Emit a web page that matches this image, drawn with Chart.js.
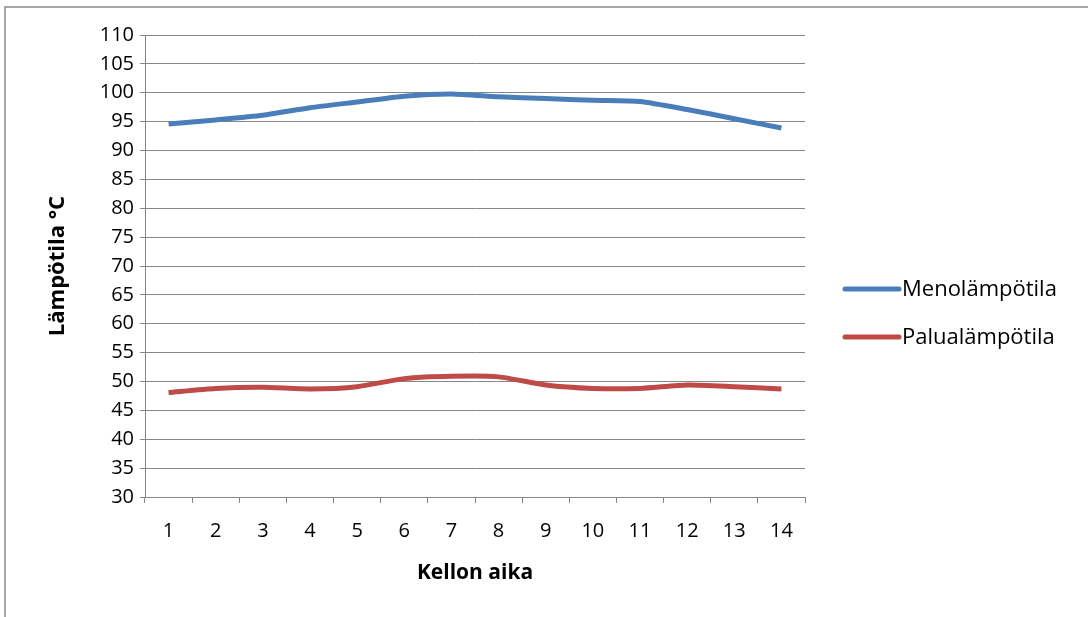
<!DOCTYPE html>
<html>
<head>
<meta charset="utf-8">
<script src="https://cdn.jsdelivr.net/npm/chart.js@4.4.0/dist/chart.umd.min.js"></script>
<style>
  html, body { margin: 0; padding: 0; background: #fff; }
  #wrap { width: 1088px; height: 617px; position: relative; }
</style>
</head>
<body>
<div id="wrap"><canvas id="tempChart" width="1088" height="617"></canvas></div>
<script>
const hours = ['1', '2', '3', '4', '5', '6', '7', '8', '9', '10', '11', '12', '13', '14'];
const menoTemp = [94.6, 95.3, 96.1, 97.4, 98.4, 99.4, 99.8, 99.3, 99.0, 98.7, 98.5, 97.1, 95.5, 93.9];
const paluuTemp = [48.1, 48.8, 49.0, 48.7, 49.1, 50.5, 50.9, 50.8, 49.4, 48.8, 48.8, 49.4, 49.1, 48.7];
const seriesNames = ['Menolämpötila', 'Palualämpötila'];

const FONT = '"Open Sans", Lato, sans-serif';
const AXIS_GRAY = '#868686';

// frame around the whole chart + legend on the right
const framePlugin = {
  id: 'frame',
  beforeDraw(chart) {
    const c = chart.ctx;
    c.save();
    c.strokeStyle = '#8a8a8a';
    c.lineWidth = 1.5;
    c.strokeRect(5, 7, 1200, 700);
    c.restore();
  },
  afterDraw(chart) {
    const c = chart.ctx;
    const rowsY = [289, 337];
    c.save();
    c.font = '22px ' + FONT;
    c.textBaseline = 'middle';
    chart.data.datasets.forEach((ds, i) => {
      const y = rowsY[i];
      c.strokeStyle = ds.borderColor;
      c.lineWidth = 5;
      c.lineCap = 'round';
      c.beginPath();
      c.moveTo(845, y);
      c.lineTo(899, y);
      c.stroke();
      c.fillStyle = '#000';
      c.fillText(ds.label, 902, y + 1);
    });
    c.restore();
  }
};

new Chart(document.getElementById('tempChart').getContext('2d'), {
  type: 'line',
  data: {
    labels: hours,
    datasets: [
      { label: seriesNames[0], data: menoTemp, borderColor: '#4a7ebb', borderWidth: 5, pointRadius: 0, tension: 0.2 },
      { label: seriesNames[1], data: paluuTemp, borderColor: '#be4b48', borderWidth: 5, pointRadius: 0, tension: 0.2 },
    ],
  },
  options: {
    responsive: false,
    animation: false,
    layout: { padding: { left: 0, top: 35, right: 283, bottom: 0 } },
    plugins: {
      legend: { display: false },
      tooltip: { enabled: false },
    },
    scales: {
      x: {
        offset: true,
        grid: { offset: true, drawOnChartArea: false, drawTicks: true, tickLength: 6, color: AXIS_GRAY },
        border: { color: AXIS_GRAY },
        ticks: { color: '#000', font: { family: FONT, size: 20 }, padding: 16, maxRotation: 0 },
        title: { display: true, text: 'Kellon aika', color: '#000', font: { family: FONT, size: 21, weight: 'bold' }, padding: { top: 0, bottom: 31 } },
        afterFit: s => { s.height = 617 - 497; },
      },
      y: {
        min: 30,
        max: 110,
        grid: { color: AXIS_GRAY, tickLength: 5 },
        border: { color: AXIS_GRAY },
        ticks: { stepSize: 5, color: '#000', font: { family: FONT, size: 20 }, padding: 6 },
        title: { display: true, text: 'Lämpötila °C', color: '#000', font: { family: FONT, size: 22, weight: 'bold' }, padding: { top: 45 } },
        afterFit: s => { s.width = 145; },
      },
    },
  },
  plugins: [framePlugin],
});
</script>
</body>
</html>
